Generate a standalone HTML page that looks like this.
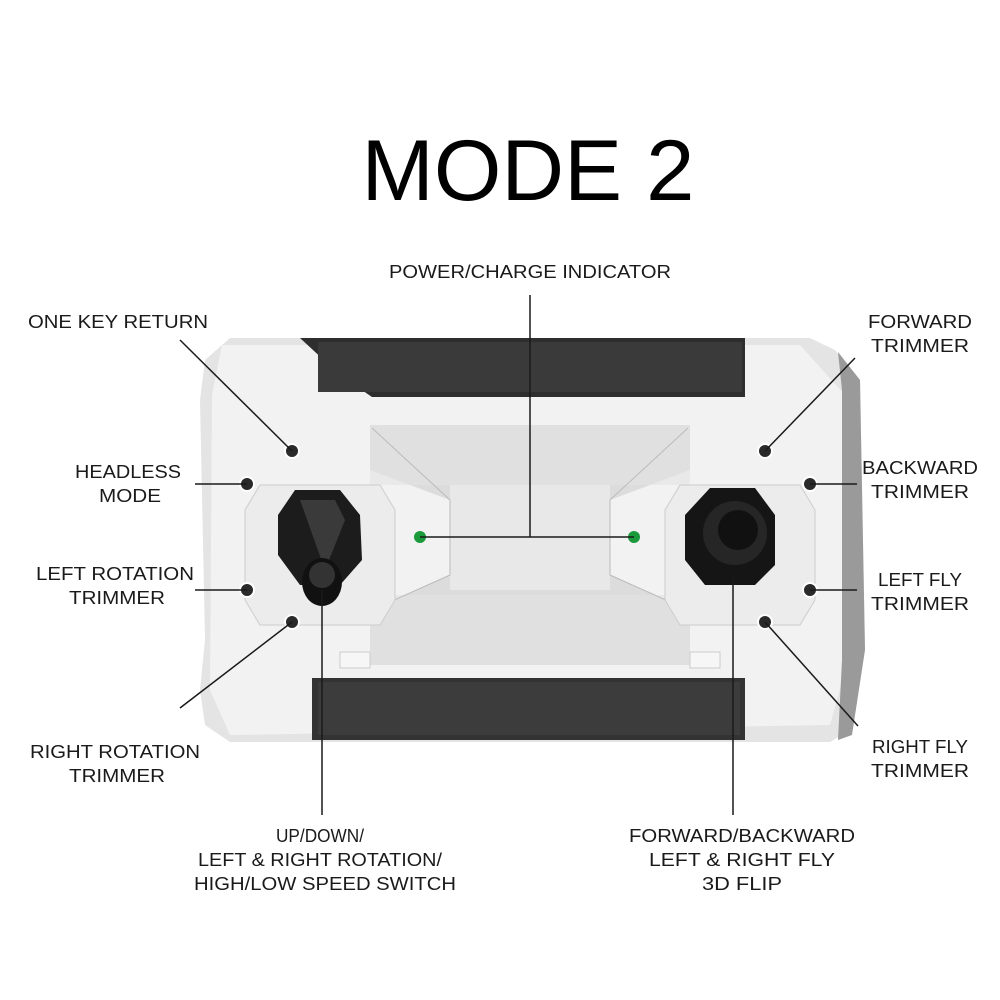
<!DOCTYPE html>
<html><head><meta charset="utf-8"><style>
html,body{margin:0;padding:0;background:#fff;}
svg{display:block}
text{font-family:"Liberation Sans",sans-serif;fill:#1a1a1a}
.l{font-size:18px}
</style></head><body>
<svg width="1000" height="1000" viewBox="0 0 1000 1000">
<text x="528" y="200" font-size="86" text-anchor="middle" textLength="333" lengthAdjust="spacingAndGlyphs" style="fill:#000">MODE 2</text>

<!-- body -->
<path d="M230 338 L810 338 L835 350 L860 380 L865 650 L855 690 L850 730 L830 742 L230 742 L205 725 L200 690 L205 640 L200 400 L205 360 Z" fill="#e4e4e4"/>
<path d="M222 345 L800 345 L845 395 L848 660 L830 725 L230 735 L210 690 L212 395 Z" fill="#f2f2f2"/>
<path d="M838 352 L860 380 L865 650 L852 735 L838 740 L842 660 L842 390 Z" fill="#9a9a9a"/>
<!-- black bands -->
<path d="M300 338 L745 338 L745 397 L372 397 L340 375 Z" fill="#2e2e2e"/>
<path d="M318 342 L742 342 L742 392 L318 392 Z" fill="#3a3a3a"/>
<path d="M312 678 L745 678 L745 740 L312 740 Z" fill="#333"/>
<path d="M318 682 L740 682 L740 735 L318 735 Z" fill="#3c3c3c"/>
<!-- tray -->
<path d="M370 425 L690 425 L690 470 L610 500 L610 575 L690 610 L690 665 L370 665 L370 610 L450 575 L450 500 L370 470 Z" fill="#dcdcdc"/>
<path d="M450 485 L610 485 L610 590 L450 590 Z" fill="#e8e8e8"/>
<rect x="370" y="425" width="320" height="60" fill="#e2e2e2" opacity="0.6"/>
<rect x="370" y="595" width="320" height="70" fill="#e2e2e2" opacity="0.6"/>
<path d="M372 428 L450 500 L450 575 L372 610" fill="none" stroke="#bbb"/>
<path d="M688 428 L610 500 L610 575 L688 610" fill="none" stroke="#bbb"/>
<rect x="340" y="652" width="30" height="16" fill="#f6f6f6" stroke="#ccc"/>
<rect x="690" y="652" width="30" height="16" fill="#f6f6f6" stroke="#ccc"/>
<!-- stick housings -->
<path d="M260 485 L380 485 L395 510 L395 600 L380 625 L260 625 L245 600 L245 510 Z" fill="#ececec" stroke="#ccc"/>
<path d="M680 485 L800 485 L815 510 L815 600 L800 625 L680 625 L665 600 L665 510 Z" fill="#ececec" stroke="#ccc"/>
<!-- left stick -->
<path d="M295 490 L340 490 L360 515 L362 560 L340 585 L300 585 L278 555 L278 515 Z" fill="#1c1c1c"/>
<path d="M300 500 L335 500 L345 520 L325 570 Z" fill="#3a3a3a"/>
<ellipse cx="322" cy="582" rx="20" ry="24" fill="#111"/>
<ellipse cx="322" cy="575" rx="13" ry="13" fill="#333"/>
<!-- right stick -->
<path d="M710 488 L755 488 L775 515 L775 565 L755 585 L705 585 L685 560 L685 515 Z" fill="#151515"/>
<circle cx="735" cy="533" r="32" fill="#262626"/>
<circle cx="738" cy="530" r="20" fill="#111"/>
<!-- buttons -->
<g fill="#2a2a2a" stroke="#fff" stroke-width="2">
<circle cx="292" cy="451" r="7"/><circle cx="247" cy="484" r="7"/><circle cx="247" cy="590" r="7"/><circle cx="292" cy="622" r="7"/>
<circle cx="765" cy="451" r="7"/><circle cx="810" cy="484" r="7"/><circle cx="810" cy="590" r="7"/><circle cx="765" cy="622" r="7"/>
</g>
<circle cx="420" cy="537" r="6" fill="#1b9a3c"/><circle cx="634" cy="537" r="6" fill="#1b9a3c"/>
<!-- leaders -->
<g stroke="#1a1a1a" stroke-width="1.5" fill="none">
<path d="M180 340 L292 451"/><path d="M195 484 L247 484"/><path d="M195 590 L247 590"/><path d="M180 708 L292 622"/>
<path d="M322 590 L322 815"/>
<path d="M530 295 L530 537 M420 537 L634 537"/>
<path d="M855 358 L765 451"/><path d="M810 484 L857 484"/><path d="M810 590 L857 590"/><path d="M858 726 L765 622"/>
<path d="M733 575 L733 815"/>
</g>
<!-- labels -->
<g class="l">
<text x="530" y="278" text-anchor="middle" textLength="282" lengthAdjust="spacingAndGlyphs">POWER/CHARGE INDICATOR</text>
<text x="118" y="328" text-anchor="middle" textLength="180" lengthAdjust="spacingAndGlyphs">ONE KEY RETURN</text>
<text x="128" y="478" text-anchor="middle" textLength="106" lengthAdjust="spacingAndGlyphs">HEADLESS</text>
<text x="130" y="502" text-anchor="middle" textLength="62" lengthAdjust="spacingAndGlyphs">MODE</text>
<text x="115" y="580" text-anchor="middle" textLength="158" lengthAdjust="spacingAndGlyphs">LEFT ROTATION</text>
<text x="117" y="604" text-anchor="middle" textLength="96" lengthAdjust="spacingAndGlyphs">TRIMMER</text>
<text x="115" y="758" text-anchor="middle" textLength="170" lengthAdjust="spacingAndGlyphs">RIGHT ROTATION</text>
<text x="117" y="782" text-anchor="middle" textLength="96" lengthAdjust="spacingAndGlyphs">TRIMMER</text>
<text x="320" y="842" text-anchor="middle" textLength="88" lengthAdjust="spacingAndGlyphs">UP/DOWN/</text>
<text x="320" y="866" text-anchor="middle" textLength="244" lengthAdjust="spacingAndGlyphs">LEFT &amp; RIGHT ROTATION/</text>
<text x="325" y="890" text-anchor="middle" textLength="262" lengthAdjust="spacingAndGlyphs">HIGH/LOW SPEED SWITCH</text>
<text x="920" y="328" text-anchor="middle" textLength="104" lengthAdjust="spacingAndGlyphs">FORWARD</text>
<text x="920" y="352" text-anchor="middle" textLength="98" lengthAdjust="spacingAndGlyphs">TRIMMER</text>
<text x="920" y="474" text-anchor="middle" textLength="116" lengthAdjust="spacingAndGlyphs">BACKWARD</text>
<text x="920" y="498" text-anchor="middle" textLength="98" lengthAdjust="spacingAndGlyphs">TRIMMER</text>
<text x="920" y="586" text-anchor="middle" textLength="84" lengthAdjust="spacingAndGlyphs">LEFT FLY</text>
<text x="920" y="610" text-anchor="middle" textLength="98" lengthAdjust="spacingAndGlyphs">TRIMMER</text>
<text x="920" y="753" text-anchor="middle" textLength="96" lengthAdjust="spacingAndGlyphs">RIGHT FLY</text>
<text x="920" y="777" text-anchor="middle" textLength="98" lengthAdjust="spacingAndGlyphs">TRIMMER</text>
<text x="742" y="842" text-anchor="middle" textLength="226" lengthAdjust="spacingAndGlyphs">FORWARD/BACKWARD</text>
<text x="742" y="866" text-anchor="middle" textLength="186" lengthAdjust="spacingAndGlyphs">LEFT &amp; RIGHT FLY</text>
<text x="742" y="890" text-anchor="middle" textLength="80" lengthAdjust="spacingAndGlyphs">3D FLIP</text>
</g>
</svg>
</body></html>
